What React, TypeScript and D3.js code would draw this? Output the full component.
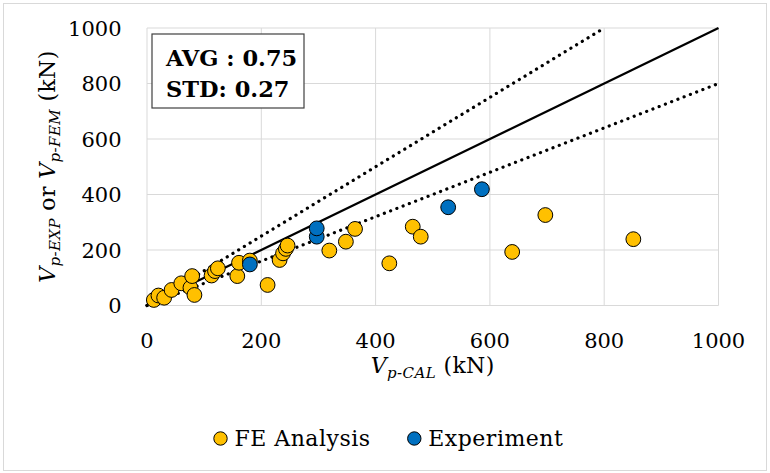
import React from "react";
import * as d3 from "d3";

const feAnalysis: [number, number][] = [
  [12, 20], [20, 36], [30, 28], [43, 56], [60, 80], [76, 64], [79, 106], [83, 38],
  [113, 108], [119, 124], [124, 134], [158, 106], [161, 154], [180, 162], [211, 74],
  [232, 164], [238, 188], [243, 204], [246, 216], [319, 198], [348, 230], [364, 276],
  [424, 152], [465, 284], [479, 248], [639, 193], [697, 326], [851, 239],
];
const experiment: [number, number][] = [
  [180, 148], [297, 248], [297, 278], [527, 354], [586, 419],
];
const xTicks = [0, 200, 400, 600, 800, 1000];
const yTicks = [0, 200, 400, 600, 800, 1000];
const refLines = [
  { slope: 1, dotted: false },
  { slope: 1.25, dotted: true },
  { slope: 0.8, dotted: true },
];
const statLines = ["AVG : 0.75", "STD: 0.27"];
const legendItems = [
  { name: "FE Analysis", color: "#FFC000" },
  { name: "Experiment", color: "#0070C0" },
];

const FONT = "'DejaVu Serif', serif";

export default function App() {
  const W = 770, H = 473;
  const x = d3.scaleLinear().domain([0, 1000]).range([147, 718.5]);
  const y = d3.scaleLinear().domain([0, 1000]).range([305.5, 28]);
  const lineGen = d3.line<[number, number]>().x(d => x(d[0])).y(d => y(d[1]));

  return (
    <svg width={W} height={H} style={{ position: "absolute", left: 0, top: 0 }} fontFamily={FONT}>
      <rect x={0} y={0} width={W} height={H} fill="#fff" />
      <rect x={3.5} y={3.5} width={763} height={467} fill="none" stroke="#d9d9d9" strokeWidth={1} />
      {/* grid */}
      {xTicks.map(t => (
        <line key={"gx" + t} x1={x(t)} x2={x(t)} y1={y(0)} y2={y(1000)} stroke="#d9d9d9" strokeWidth={1} />
      ))}
      {yTicks.map(t => (
        <line key={"gy" + t} x1={x(0)} x2={x(1000)} y1={y(t)} y2={y(t)} stroke="#d9d9d9" strokeWidth={1} />
      ))}
      {/* tick labels */}
      {yTicks.map(t => (
        <text key={"ty" + t} x={121.5} y={y(t)} dy="0.36em" textAnchor="end" fontSize={21} fill="#000">{t}</text>
      ))}
      {xTicks.map(t => (
        <text key={"tx" + t} x={x(t)} y={340} dy="0.36em" textAnchor="middle" fontSize={21} fill="#000">{t}</text>
      ))}
      {/* reference lines */}
      {refLines.map((r, i) => {
        const xEnd = Math.min(1000, 1000 / r.slope);
        const pts: [number, number][] = [[0, 0], [xEnd, xEnd * r.slope]];
        return (
          <path key={"ref" + i} d={lineGen(pts) || ""} fill="none" stroke="#000"
            strokeWidth={r.dotted ? 3.2 : 2.2}
            strokeDasharray={r.dotted ? "0.1 6.6" : undefined}
            strokeLinecap={r.dotted ? "round" : "butt"} />
        );
      })}
      {/* points */}
      {feAnalysis.map((d, i) => (
        <circle key={"fe" + i} cx={x(d[0])} cy={y(d[1])} r={7.4} fill="#FFC000" stroke="#000" strokeWidth={1} />
      ))}
      {experiment.map((d, i) => (
        <circle key={"ex" + i} cx={x(d[0])} cy={y(d[1])} r={7.4} fill="#0070C0" stroke="#000" strokeWidth={1} />
      ))}
      {/* stat box */}
      <rect x={152} y={34} width={152} height={74} fill="#fff" stroke="#404040" strokeWidth={1.2} />
      {statLines.map((s, i) => (
        <text key={"st" + i} x={166} y={66 + i * 30.5} fontSize={22.5} fontWeight="bold" fill="#000">{s}</text>
      ))}
      {/* axis titles */}
      <text x={x(500)} y={373} textAnchor="middle" fontSize={22} letterSpacing={0.4} fill="#000">
        <tspan fontStyle="italic">V</tspan>
        <tspan fontStyle="italic" fontSize={15} dy={5}>p-CAL</tspan>
        <tspan dy={-5}> (kN)</tspan>
      </text>
      <text transform={`translate(55,166.5) rotate(-90)`} textAnchor="middle" fontSize={22} letterSpacing={0.4} fill="#000">
        <tspan fontStyle="italic">V</tspan>
        <tspan fontStyle="italic" fontSize={15} dy={5}>p-EXP</tspan>
        <tspan dy={-5}> or </tspan>
        <tspan fontStyle="italic">V</tspan>
        <tspan fontStyle="italic" fontSize={15} dy={5}>p-FEM</tspan>
        <tspan dy={-5}> (kN)</tspan>
      </text>
      {/* legend */}
      {legendItems.map((l, i) => {
        const cx = i === 0 ? 220.5 : 414.3;
        return (
          <g key={"lg" + i}>
            <circle cx={cx} cy={438.5} r={6.7} fill={l.color} stroke="#000" strokeWidth={1} />
            <text x={cx + 14} y={438.5} dy="0.36em" fontSize={22} letterSpacing={0.5} fill="#000">{l.name}</text>
          </g>
        );
      })}
    </svg>
  );
}
